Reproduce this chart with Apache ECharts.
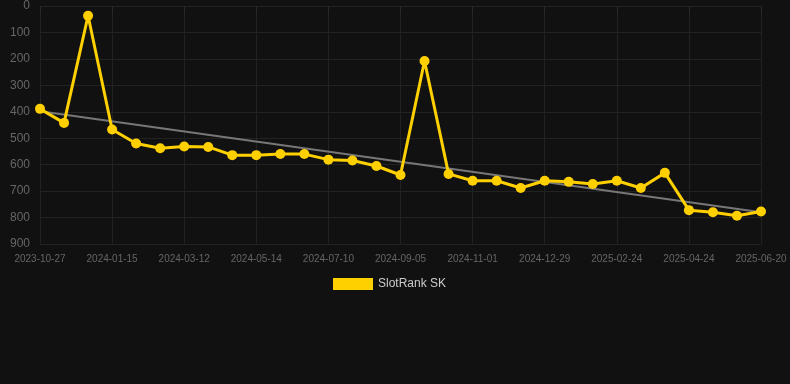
<!DOCTYPE html>
<html>
<head>
<meta charset="utf-8">
<script src="https://cdn.jsdelivr.net/npm/echarts@6/dist/echarts.min.js"></script>
<style>
  html, body { margin: 0; padding: 0; background: #111111; }
  #chart { width: 790px; height: 384px; }
</style>
</head>
<body>
<div id="chart"></div>
<script>
const dates = [
  '2023-10-27', '2023-11-23', '2023-12-20', '2024-01-15', '2024-02-03', '2024-02-22',
  '2024-03-12', '2024-04-02', '2024-04-23', '2024-05-14', '2024-06-01', '2024-06-20',
  '2024-07-10', '2024-07-29', '2024-08-17', '2024-09-05', '2024-09-24', '2024-10-13',
  '2024-11-01', '2024-11-20', '2024-12-10', '2024-12-29', '2025-01-17', '2025-02-05',
  '2025-02-24', '2025-03-15', '2025-04-04', '2025-04-24', '2025-05-13', '2025-06-01',
  '2025-06-20'
];
const ranks = [
  389, 442, 37, 467, 520, 538, 531, 533, 564, 564, 560, 560,
  581, 584, 605, 639, 208, 635, 661, 661, 688, 661, 665, 673,
  661, 688, 631, 772, 780, 793, 777
];
// trend line start / end values
const trendEnds = [398, 780];
const yTicks = [0, 900, 100];

let mychart = echarts.init(document.getElementById('chart'));
mychart.setOption({
  backgroundColor: '#111111',
  animation: false,
  grid: { left: 40, right: 29, top: 6, bottom: 140 },
  legend: {
    data: ['SlotRank SK'],
    top: 273,
    left: 328,
    itemWidth: 40,
    itemHeight: 12,
    icon: 'rect',
    textStyle: { color: '#cccccc', fontSize: 12 }
  },
  xAxis: {
    type: 'category',
    data: dates,
    boundaryGap: false,
    axisLine: { show: false },
    axisTick: { show: true, interval: 2, length: 8, lineStyle: { color: '#2a2a2a' } },
    axisLabel: { interval: 2, color: '#666666', fontSize: 10, margin: 10 },
    splitLine: { show: true, interval: 2, lineStyle: { color: '#222222' } }
  },
  yAxis: {
    type: 'value',
    inverse: true,
    min: yTicks[0],
    max: yTicks[1],
    interval: yTicks[2],
    axisLine: { show: false },
    axisTick: { show: false },
    axisLabel: { color: '#666666', fontSize: 12, margin: 10 },
    splitLine: { lineStyle: { color: '#222222' } }
  },
  series: [
    {
      name: 'trend',
      type: 'line',
      data: [[0, trendEnds[0]], [dates.length - 1, trendEnds[1]]],
      symbol: 'none',
      lineStyle: { color: '#777777', width: 2 },
      z: 1,
      silent: true
    },
    {
      name: 'SlotRank SK',
      type: 'line',
      data: ranks,
      symbol: 'circle',
      symbolSize: 10,
      itemStyle: { color: '#ffd000' },
      lineStyle: { color: '#ffd000', width: 3 },
      z: 2
    }
  ]
});
</script>
</body>
</html>
